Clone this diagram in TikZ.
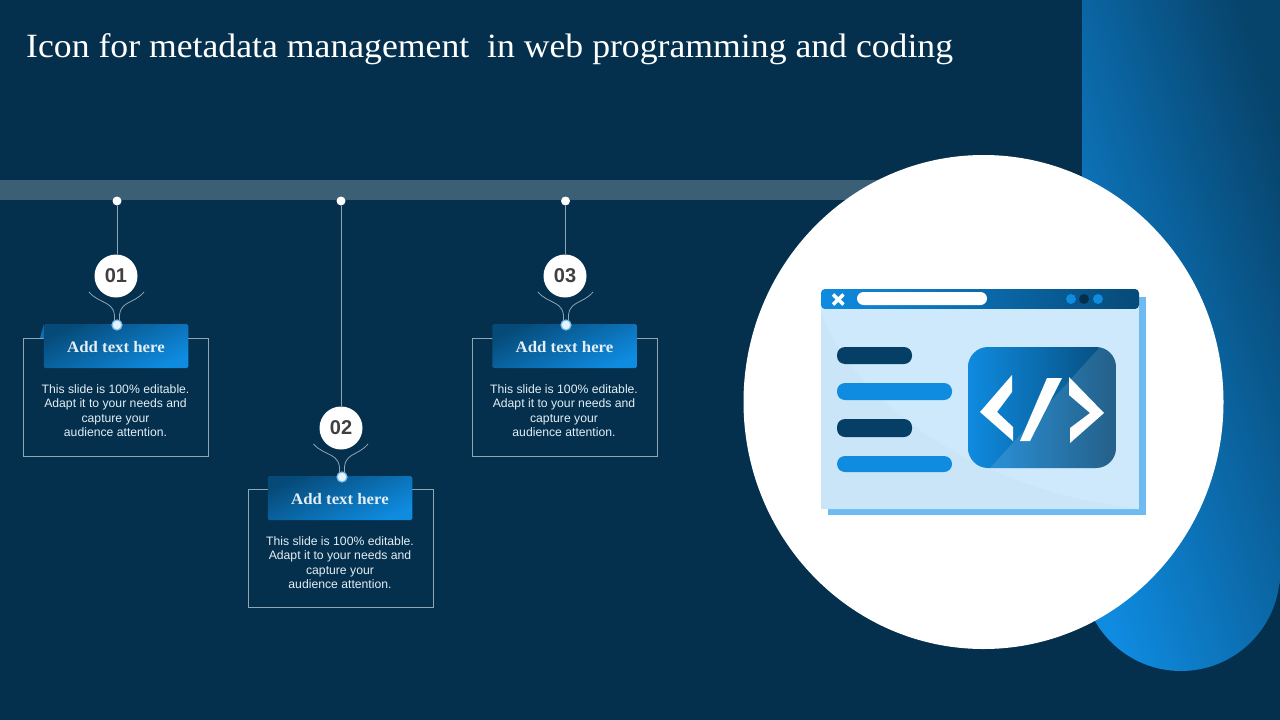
\documentclass[tikz,border=0pt]{standalone}
\usepackage{fontspec}
\setmainfont{Liberation Serif}
\setsansfont{Liberation Sans}
\newfontfamily\widefont[FakeStretch=1.05]{Liberation Serif}
\definecolor{pagebg}{HTML}{04304D}
\definecolor{barcol}{HTML}{3B5F74}
\definecolor{wirecol}{HTML}{8FA6B5}
\definecolor{brightblue}{HTML}{0F8BE0}
\definecolor{deepblue}{HTML}{064A78}
\definecolor{darkbar}{HTML}{063F66}
\definecolor{paleblue}{HTML}{CEE9FB}
\definecolor{swooshblue}{HTML}{CAE5F8}
\definecolor{shadowblue}{HTML}{6DBBF0}
\definecolor{numcol}{HTML}{404040}
\definecolor{bodycol}{HTML}{E3EEF5}
\definecolor{bandtop}{HTML}{07446C}
\begin{document}
\begin{tikzpicture}[
    x=1pt,
    y=-1pt,
    numdot/.style={
        circle,
        fill=white,
        minimum size=43pt,
        inner sep=0pt,
        text=numcol,
        font=\sffamily\bfseries\fontsize{20}{24}\selectfont
    },
    pin/.style={
        circle,
        fill=white,
        minimum size=9pt,
        inner sep=0pt
    },
    glowpin/.style={
        circle,
        fill=white!90!brightblue,
        draw=brightblue!55!white,
        line width=1.2pt,
        minimum size=10pt,
        inner sep=0pt
    },
    infobox/.style={
        rectangle,
        draw=wirecol,
        line width=0.8pt,
        minimum width=185.2pt,
        minimum height=118.2pt,
        inner sep=0pt
    },
    banner/.style={
        rectangle,
        rounded corners=1.5pt,
        minimum width=144.5pt,
        minimum height=44pt,
        inner sep=0pt,
        text height=13pt,
        text depth=0pt,
        top color=deepblue,
        bottom color=brightblue,
        shading angle=25,
        text=bodycol,
        font=\widefont\bfseries\fontsize{16}{18}\selectfont
    },
    bodytext/.style={
        align=center,
        inner sep=0pt,
        text=bodycol,
        font=\sffamily\fontsize{12.2}{14.5}\selectfont
    },
    wire/.style={
        draw=wirecol,
        line width=0.8pt
    },
    pill/.style={
        rounded corners=8pt
    }
]
\useasboundingbox (0,0) rectangle (1280,720);
\fill[pagebg] (0,0) rectangle (1280,720);

% Right band and timeline bar
\path[left color=brightblue, right color=bandtop, shading angle=108]
    (1082,0) -- (1082,572) arc[start angle=180, end angle=0, radius=99] -- (1280,0) -- cycle;
\fill[barcol] (0,180) rectangle (880,200);
\fill[white] (983.5,402) ellipse [x radius=240, y radius=247];

% Title
\node[anchor=base west, inner sep=0pt, text=white, font=\widefont\fontsize{34}{38}\selectfont] (title) at (26,57)
    {Icon for metadata management\ \ in web programming and coding};

% Item 01
\node[pin] (top1) at (117,201) {};
\node[numdot] (num1) at (116,276) {01};
\draw[wire] (top1) -- (top1 |- num1.north);
\node[infobox] (box1) at (116,397.5) {};
\fill[brightblue!60!deepblue] (40,338) -- (44,324) -- (44,338) -- cycle;
\node[banner] (head1) at (116,346) {Add text here};
\node[bodytext] (text1) at (115.5,410.5) {This slide is 100\% editable.\\Adapt it to your needs and\\capture your\\audience attention.};
\node[glowpin] (tip1) at (117,325) {};
\coordinate (la1) at (89,292);
\coordinate (ra1) at (144,292);
\draw[wire] (la1) .. controls (100,305) and (116,300) .. (114.5,320.5);
\draw[wire] (ra1) .. controls (133,305) and (118,300) .. (119.5,320.5);

% Item 02
\node[pin] (top2) at (341,201) {};
\node[numdot] (num2) at (341,428) {02};
\draw[wire] (top2) -- (num2);
\node[infobox] (box2) at (341,548.5) {};
\node[banner] (head2) at (340,498) {Add text here};
\node[bodytext] (text2) at (340,562.5) {This slide is 100\% editable.\\Adapt it to your needs and\\capture your\\audience attention.};
\node[glowpin] (tip2) at (342,477) {};
\coordinate (la2) at (313.5,444);
\coordinate (ra2) at (368,444);
\draw[wire] (la2) .. controls (325,457) and (341,452) .. (339.5,472.5);
\draw[wire] (ra2) .. controls (357,457) and (343,452) .. (344.5,472.5);

% Item 03
\node[pin] (top3) at (565.5,201) {};
\node[numdot] (num3) at (565,276) {03};
\draw[wire] (top3) -- (top3 |- num3.north);
\node[infobox] (box3) at (565,397.5) {};
\node[banner] (head3) at (564.5,346) {Add text here};
\node[bodytext] (text3) at (564,410.5) {This slide is 100\% editable.\\Adapt it to your needs and\\capture your\\audience attention.};
\node[glowpin] (tip3) at (566,325) {};
\coordinate (la3) at (538,292);
\coordinate (ra3) at (593,292);
\draw[wire] (la3) .. controls (549,305) and (565,300) .. (563.5,320.5);
\draw[wire] (ra3) .. controls (582,305) and (567,300) .. (568.5,320.5);

% Browser window
\fill[shadowblue] (828,297) rectangle (1146,515);
\fill[paleblue] (821,300) rectangle (1139,509);
\fill[swooshblue] (821,313) .. controls (860,410) and (980,490) .. (1139,509) -- (821,509) -- cycle;
\path[left color=brightblue, right color=deepblue, rounded corners=4pt]
    (821,309) -- (821,289) -- (1139,289) -- (1139,309) -- cycle;
\fill[paleblue] (821,309) rectangle (1139,313);
\fill[white, rounded corners=6.5pt] (857,292) rectangle (987,305);
\draw[white, line width=3.5pt] (833,294.5) -- (843.5,304.5) (843.5,294.5) -- (833,304.5);
\fill[brightblue] (1071,299) circle [radius=5];
\fill[pagebg] (1084,299) circle [radius=5];
\fill[brightblue] (1098,299) circle [radius=5];

% List bars
\fill[darkbar, pill] (837,347) rectangle (912,364);
\fill[brightblue, pill] (837,383) rectangle (952,400);
\fill[darkbar, pill] (837,419) rectangle (912,437);
\fill[brightblue, pill] (837,456) rectangle (952,472);

% Code tile
\path[left color=brightblue, right color=deepblue, rounded corners=20pt] (968,347) rectangle (1116,468);
\begin{scope}
    \clip[rounded corners=20pt] (968,347) rectangle (1116,468);
    \fill[white, opacity=0.12] (1100,347) -- (1116,347) -- (1116,468) -- (990,468) -- cycle;
\end{scope}
\fill[white] (980,412) -- (1012,375) -- (1012,392) -- (997,412) -- (1013,427) -- (1013,441) -- cycle;
\fill[white] (1047,378) -- (1062,378) -- (1030,441) -- (1020,441) -- cycle;
\fill[white] (1069,377) -- (1104,413) -- (1070,443) -- (1070,428) -- (1090,413) -- (1069,395) -- cycle;

\end{tikzpicture}
\end{document}
